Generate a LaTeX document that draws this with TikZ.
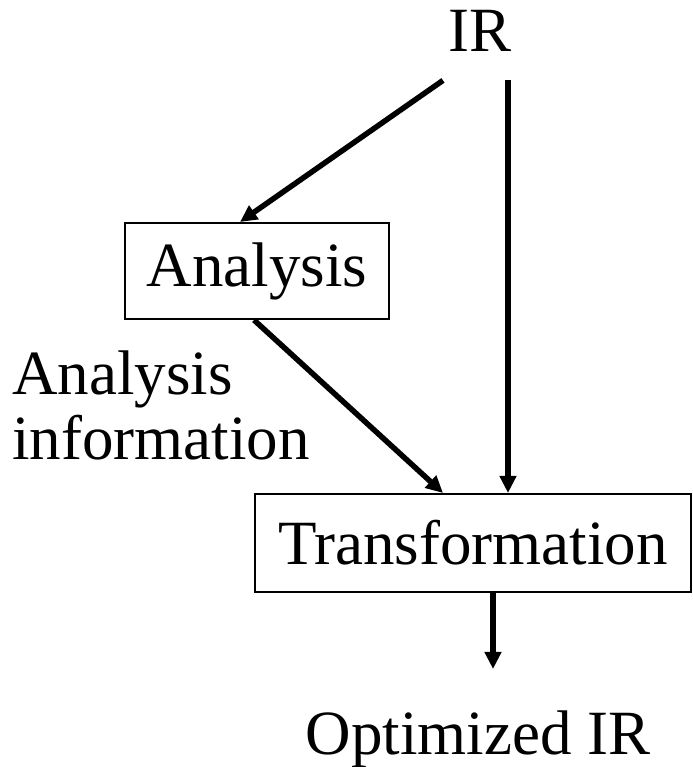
\documentclass[tikz,border=0pt]{standalone}
\usepackage{fontspec}
\setmainfont{Liberation Serif}
\usetikzlibrary{arrows.meta}

\begin{document}
\begin{tikzpicture}[x=0.5pt, y=0.5pt,
    stage/.style={draw, line width=1pt, inner sep=0pt},
    lbl/.style={inner sep=0pt, anchor=base},
    flow/.style={line width=2.75pt, -{Triangle[length=8.5pt,width=8pt]}}]
  \fontsize{31.5}{32.5}\selectfont
  \useasboundingbox (0,0) rectangle (692,767);

  % input and output
  \node[lbl] (ir) at (480,715) {IR};
  \node[lbl] (opt) at (478,12) {Optimized IR};
  \coordinate (optin) at (493,98);

  % the two passes
  \node[stage, minimum width=132pt, minimum height=48pt] (ana) at (257,496) {Analysis};
  \node[stage, minimum width=218pt, minimum height=49pt] (trans) at (473,224) {Transformation};

  \node[lbl, anchor=base west, align=left] (info) at (12,307) {Analysis\\information};

  \draw[flow] ([xshift=-18.5pt,yshift=-14pt]ir.south) -- ([xshift=-8.5pt]ana.north);
  \draw[flow] ([xshift=14pt,yshift=-14pt]ir.south) -- ([xshift=17.5pt]trans.north);
  \draw[flow] ([xshift=-1.5pt]ana.south) -- ([xshift=-15pt]trans.north);
  \draw[flow] ([xshift=10pt]trans.south) -- (optin);
\end{tikzpicture}
\end{document}
